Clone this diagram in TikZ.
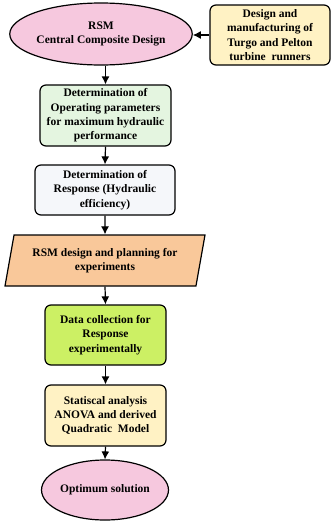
\documentclass[tikz,border=0pt]{standalone}
\usepackage{fontspec}
\setmainfont{Liberation Serif}
\usetikzlibrary{shapes.geometric,arrows.meta}
\definecolor{ovalpink}{HTML}{F6C8DE}
\definecolor{paleyellow}{HTML}{FFF2C4}
\definecolor{palegreen}{HTML}{E4F5E0}
\definecolor{paleblue}{HTML}{F5F7FA}
\definecolor{paleorange}{HTML}{F9C89A}
\definecolor{limegreen}{HTML}{CCF064}
\begin{document}
\begin{tikzpicture}[x=1pt,y=-1pt,
  every node/.style={draw,line width=1.2pt,align=center,inner sep=0pt,
    font=\fontsize{11.5}{14.3}\selectfont\bfseries},
  oval/.style={ellipse},
  procbox/.style={rounded corners=6pt},
  flow/.style={-{Latex[length=8pt,width=8pt]},line width=1.2pt}]
  \useasboundingbox (0,0) rectangle (336,525);
  \node[oval,fill=ovalpink,minimum width=160,minimum height=62] (rsm) at (101,34) {RSM\\Central Composite Design};
  \node[procbox,fill=paleyellow,minimum width=120,minimum height=60] (manuf) at (270,35)
    {Design and\\manufacturing of\\Turgo and Pelton\\turbine\ \ runners};
  \node[procbox,fill=palegreen,minimum width=131,minimum height=61] (oper) at (105.5,115.5)
    {Determination of\\Operating parameters\\for maximum hydraulic\\performance};
  \node[procbox,fill=paleblue,minimum width=140,minimum height=50] (resp) at (105,190)
    {Determination of\\Response (Hydraulic\\efficiency)};
  \node[trapezium,trapezium left angle=70,trapezium right angle=110,trapezium stretches body,
    fill=paleorange,minimum width=200,minimum height=51] (plan) at (105,260.5)
    {RSM design and planning for\\experiments};
  \node[procbox,fill=limegreen,minimum width=121,minimum height=60] (data) at (105.5,335)
    {Data collection for\\Response\\experimentally};
  \node[procbox,fill=paleyellow,minimum width=121,minimum height=61] (stat) at (105.5,415.5)
    {Statiscal analysis\\ANOVA and derived\\Quadratic\ \ Model};
  \node[oval,fill=ovalpink,minimum width=106,minimum height=60] (optim) at (105,490) {Optimum solution};
  % connectors
  \draw[flow] (manuf.west) -- (rsm.east |- manuf.west);
  \draw[flow] (oper.north |- rsm.south) -- (oper.north);
  \draw[flow] (oper.south) -- (resp.north);
  \draw[flow] (resp.south) -- (plan.north);
  \draw[flow] (plan.south) -- (data.north);
  \draw[flow] (data.south) -- (stat.north);
  \draw[flow] (stat.south) -- (optim.north);
\end{tikzpicture}
\end{document}
